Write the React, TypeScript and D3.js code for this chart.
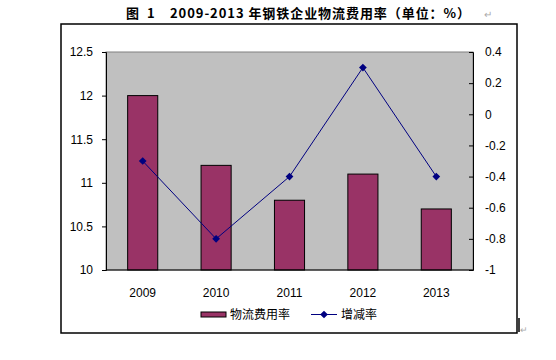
import React, { useEffect, useRef } from 'react'
import * as d3 from 'd3'

const years = ['2009', '2010', '2011', '2012', '2013']
const costRate = [12, 11.2, 10.8, 11.1, 10.7]
const changeRate = [-0.3, -0.8, -0.4, 0.3, -0.4]
const leftTicks = [10, 10.5, 11, 11.5, 12, 12.5]
const rightTicks = [-1, -0.8, -0.6, -0.4, -0.2, 0, 0.2, 0.4]

const titleParts = ['图', '1', '2009-2013 年钢铁企业物流费用率（单位：%）']
const barLabel = '物流费用率'
const lineLabel = '增减率'

const W = 556
const H = 360

export default function App() {
  const ref = useRef<SVGSVGElement>(null)

  useEffect(() => {
    const svg = d3.select(ref.current)
    svg.selectAll('*').remove()

    const plot = { left: 106, right: 473, top: 52, bottom: 270 }
    const font = '"Liberation Sans", Arial, sans-serif'
    const cjk = '"Noto Sans CJK SC", sans-serif'

    // outer frame
    svg.append('rect')
      .attr('x', 61).attr('y', 24).attr('width', 456).attr('height', 309)
      .attr('fill', '#fff').attr('stroke', '#000').attr('stroke-width', 1.5)

    // title, in three runs like the Word caption
    const t = svg.append('text')
      .attr('y', 18)
      .attr('font-family', cjk).attr('font-weight', 'bold').attr('font-size', 13)
      .attr('fill', '#000')
    t.append('tspan').attr('x', 126).text(titleParts[0])
    t.append('tspan').attr('x', 147).text(titleParts[1])
    t.append('tspan').attr('x', 170)
      .attr('textLength', 300).attr('lengthAdjust', 'spacing')
      .text(titleParts[2])
    svg.append('text')
      .attr('x', 484).attr('y', 18)
      .attr('font-family', font).attr('font-size', 10).attr('fill', '#aaa')
      .text('↵')

    const x = d3.scaleBand<string>()
      .domain(years)
      .range([plot.left, plot.right])
      .paddingInner(0.59).paddingOuter(0.295)

    const yL = d3.scaleLinear().domain([10, 12.5]).range([plot.bottom, plot.top])
    const yR = d3.scaleLinear().domain([-1, 0.4]).range([plot.bottom, plot.top])

    svg.append('rect')
      .attr('x', plot.left).attr('y', plot.top)
      .attr('width', plot.right - plot.left).attr('height', plot.bottom - plot.top)
      .attr('fill', '#c0c0c0').attr('stroke', '#808080').attr('stroke-width', 1)

    svg.append('g').selectAll('rect')
      .data(costRate)
      .join('rect')
      .attr('x', (d, i) => x(years[i]) as number)
      .attr('y', (d) => yL(d))
      .attr('width', x.bandwidth())
      .attr('height', (d) => yL(10) - yL(d))
      .attr('fill', '#993366')
      .attr('stroke', '#000')
      .attr('stroke-width', 1)

    const leftAxis = d3.axisLeft(yL).tickValues(leftTicks).tickSize(4).tickPadding(9)
      .tickFormat((d) => String(d))
    const gl = svg.append('g').attr('transform', `translate(${plot.left},0)`).call(leftAxis)
    gl.select('.domain').attr('stroke', '#000')
    gl.selectAll('.tick line').attr('stroke', '#000')
    gl.selectAll('.tick text').attr('font-family', font).attr('font-size', 12).attr('fill', '#000')

    const rightAxis = d3.axisRight(yR).tickValues(rightTicks).tickSize(-4).tickPadding(12)
      .tickFormat((d) => String(d))
    const gr = svg.append('g').attr('transform', `translate(${plot.right},0)`).call(rightAxis)
    gr.select('.domain').attr('stroke', '#000')
    gr.selectAll('.tick line').attr('stroke', '#000')
    gr.selectAll('.tick text').attr('font-family', font).attr('font-size', 12).attr('fill', '#000')

    svg.append('line')
      .attr('x1', plot.left).attr('x2', plot.right)
      .attr('y1', plot.bottom).attr('y2', plot.bottom)
      .attr('stroke', '#000')

    svg.append('g').selectAll('text')
      .data(years)
      .join('text')
      .attr('x', (d) => (x(d) as number) + x.bandwidth() / 2)
      .attr('y', 297)
      .attr('text-anchor', 'middle')
      .attr('font-family', font).attr('font-size', 12).attr('fill', '#000')
      .text((d) => d)

    const cx = (i: number) => (x(years[i]) as number) + x.bandwidth() / 2
    const line = d3.line<number>().x((d, i) => cx(i)).y((d) => yR(d))
    svg.append('path')
      .datum(changeRate)
      .attr('d', line)
      .attr('fill', 'none').attr('stroke', '#000080').attr('stroke-width', 1)

    // square turned 45deg, as Excel draws its diamond marker
    const marker = d3.symbol().type(d3.symbolSquare).size(30)
    svg.append('g').selectAll('path')
      .data(changeRate)
      .join('path')
      .attr('d', marker)
      .attr('transform', (d, i) => `translate(${cx(i)},${yR(d)}) rotate(45)`)
      .attr('fill', '#000080')

    // legend
    const lg = svg.append('g')
    lg.append('rect')
      .attr('x', 201).attr('y', 312).attr('width', 25).attr('height', 5)
      .attr('fill', '#993366').attr('stroke', '#000').attr('stroke-width', 1)
    lg.append('text')
      .attr('x', 230).attr('y', 319)
      .attr('font-family', cjk).attr('font-size', 12).attr('fill', '#000')
      .text(barLabel)
    lg.append('line')
      .attr('x1', 311).attr('x2', 337).attr('y1', 314.5).attr('y2', 314.5)
      .attr('stroke', '#000080').attr('stroke-width', 1)
    lg.append('path')
      .attr('d', marker)
      .attr('transform', 'translate(324,314.5) rotate(45)')
      .attr('fill', '#000080')
    lg.append('text')
      .attr('x', 341).attr('y', 319)
      .attr('font-family', cjk).attr('font-size', 12).attr('fill', '#000')
      .text(lineLabel)

    // cursor mark
    svg.append('line')
      .attr('x1', 519).attr('x2', 519).attr('y1', 318).attr('y2', 332)
      .attr('stroke', '#000').attr('stroke-width', 1.5)
    svg.append('text')
      .attr('x', 520).attr('y', 333)
      .attr('font-family', font).attr('font-size', 9).attr('fill', '#aaa')
      .text('↵')
  }, [])

  return (
    <svg ref={ref} width={W} height={H}
      style={{ position: 'absolute', left: 0, top: 0, background: '#fff' }} />
  )
}
